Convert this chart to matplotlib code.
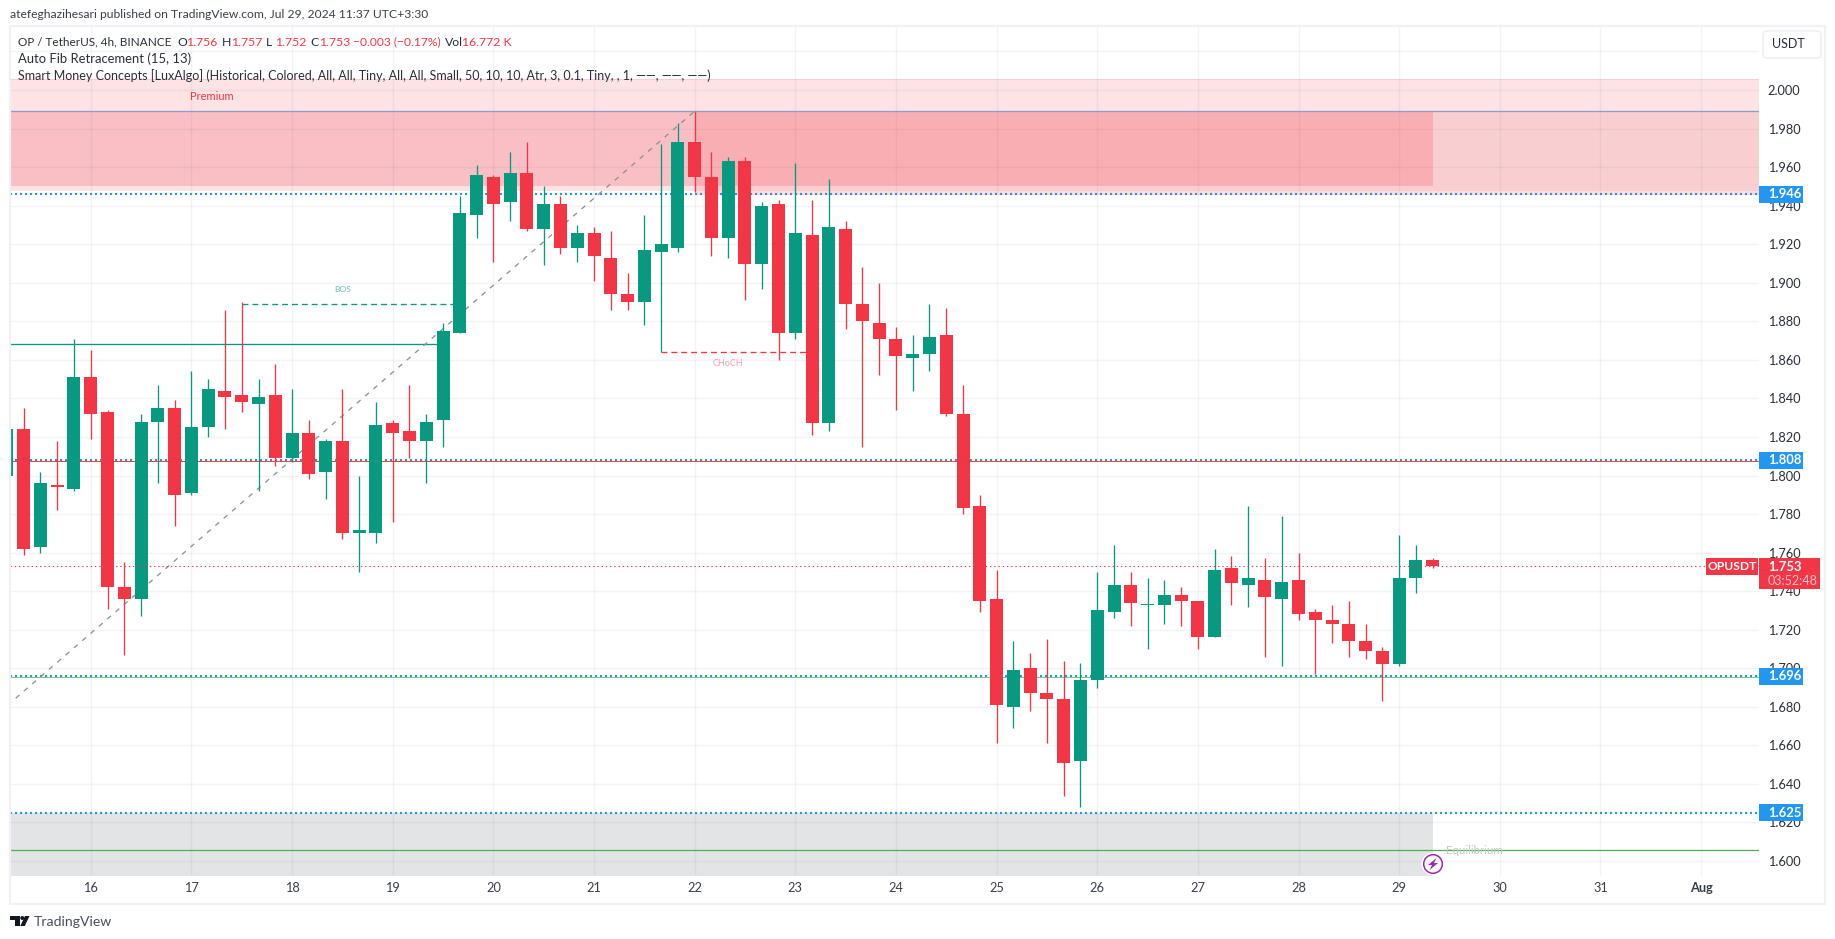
import numpy as np
import matplotlib
matplotlib.use("Agg")
import matplotlib.pyplot as plt
from matplotlib.patches import Rectangle, FancyBboxPatch, Circle, Polygon

# ---------- data ----------
opens = [1.800,1.824,1.763,1.795,1.793,1.851,1.833,1.742,1.736,1.828,1.835,1.791,1.825,1.844,1.842,1.837,1.842,1.809,1.822,1.802,
         1.818,1.770,1.770,1.827,1.823,1.818,1.829,1.874,1.935,1.955,1.942,1.957,1.928,1.941,1.918,1.926,1.913,1.894,1.890,1.916,
         1.918,1.973,1.955,1.923,1.963,1.910,1.941,1.874,1.925,1.827,1.928,1.889,1.879,1.871,1.861,1.863,1.873,1.832,1.784,1.736,
         1.680,1.700,1.687,1.684,1.652,1.694,1.729,1.743,1.733,1.733,1.738,1.735,1.716,1.752,1.743,1.746,1.736,1.746,1.729,1.725,
         1.723,1.714,1.709,1.702,1.747,1.756]
highs = [1.824,1.835,1.802,1.818,1.871,1.865,1.834,1.755,1.832,1.847,1.839,1.854,1.850,1.886,1.890,1.850,1.858,1.845,1.829,1.819,
         1.845,1.800,1.838,1.829,1.847,1.832,1.879,1.945,1.961,1.956,1.968,1.973,1.950,1.945,1.930,1.929,1.927,1.905,1.935,1.972,
         1.983,1.989,1.968,1.965,1.965,1.942,1.943,1.962,1.943,1.954,1.932,1.908,1.900,1.877,1.873,1.889,1.887,1.847,1.790,1.751,
         1.714,1.708,1.715,1.704,1.703,1.750,1.764,1.750,1.747,1.746,1.742,1.735,1.762,1.758,1.784,1.757,1.779,1.760,1.731,1.733,
         1.735,1.723,1.711,1.769,1.764,1.757]
lows = [1.800,1.759,1.760,1.782,1.792,1.819,1.731,1.707,1.727,1.796,1.774,1.790,1.820,1.824,1.833,1.792,1.805,1.807,1.798,1.788,
        1.767,1.750,1.765,1.776,1.809,1.796,1.815,1.874,1.923,1.911,1.932,1.927,1.909,1.915,1.911,1.901,1.886,1.886,1.878,1.864,
        1.916,1.947,1.914,1.913,1.891,1.897,1.860,1.871,1.821,1.823,1.876,1.815,1.852,1.834,1.844,1.854,1.831,1.780,1.729,1.661,
        1.669,1.678,1.661,1.634,1.628,1.690,1.726,1.722,1.710,1.723,1.722,1.710,1.716,1.733,1.732,1.706,1.701,1.725,1.697,1.713,
        1.706,1.705,1.683,1.701,1.739,1.752]
closes = [1.824,1.762,1.796,1.794,1.851,1.832,1.742,1.736,1.828,1.835,1.790,1.825,1.845,1.841,1.838,1.841,1.809,1.822,1.801,1.818,
          1.770,1.772,1.826,1.822,1.818,1.828,1.875,1.936,1.956,1.941,1.957,1.928,1.941,1.918,1.926,1.914,1.894,1.890,1.917,1.920,
          1.973,1.955,1.923,1.963,1.910,1.940,1.874,1.926,1.827,1.929,1.889,1.880,1.871,1.862,1.863,1.872,1.832,1.783,1.735,1.681,
          1.699,1.687,1.684,1.651,1.694,1.730,1.743,1.734,1.733,1.738,1.735,1.716,1.751,1.744,1.747,1.737,1.745,1.728,1.725,1.723,
          1.714,1.709,1.702,1.747,1.756,1.753]

day_ticks = [5, 11, 17, 23, 29, 35, 41, 47, 53, 59, 65, 71, 77, 83, 89, 95, 101]
day_labels = ["16","17","18","19","20","21","22","23","24","25","26","27","28","29","30","31","Aug"]
price_ticks = [1.60,1.62,1.64,1.66,1.68,1.70,1.72,1.74,1.76,1.78,1.80,1.82,1.84,1.86,1.88,1.90,1.92,1.94,1.96,1.98,2.00,2.02]
price_tick_labels = ["1.600","1.620","1.640","1.660","1.680","1.700","1.720","1.740","1.760","1.780","1.800","1.820","1.840",
                     "1.860","1.880","1.900","1.920","1.940","1.960","1.980","2.000",""]
blue_levels = [1.946, 1.808, 1.696, 1.625]
blue_level_labels = ["1.946", "1.808", "1.696", "1.625"]
last_price = 1.753
fib_x = [-1, 41]
fib_y = [1.673, 1.989]
swing_high = 1.989
swing_level = 1.868
bos_level = 1.889
choch_level = 1.864
red_level = 1.8075
green_level = 1.6955
equilibrium = 1.6055

GREEN = "#089981"
RED = "#f23645"
BLUE = "#2196f3"
FONT = ["Lato", "DejaVu Sans"]
plt.rcParams["font.family"] = FONT

W, H = 1835, 939
fig = plt.figure(figsize=(W / 100, H / 100), dpi=100, facecolor="white")

L, R, T, B = 10, 1759, 27, 875.7
ax = fig.add_axes([L / W, 1 - B / H, (R - L) / W, (B - T) / H])
xmin, xmax = 0.185, 104.45
ax.set_xlim(xmin, xmax)
ax.set_ylim(1.5924, 2.0327)
for s in ax.spines.values():
    s.set_visible(False)
ax.set_axisbelow(True)
ax.set_xticks(day_ticks)
ax.set_xticklabels(day_labels, fontsize=9.2, color="#3a3e4a")
ax.get_xticklabels()[-1].set_fontweight("bold")
ax.set_yticks(price_ticks)
ax.set_yticklabels(price_tick_labels, fontsize=9.2, color="#2a2e39")
ax.yaxis.tick_right()
ax.tick_params(axis="both", length=0)
ax.tick_params(axis="x", pad=4.5)
ax.tick_params(axis="y", pad=6.2)
ax.grid(True, color="#1a2550", alpha=0.05, lw=1.05)

# ---------- zones ----------
def zone(x0, x1, p0, p1, color, z=0.2, alpha=None):
    ax.fill_between([x0, x1], p0, p1, color=color, lw=0, zorder=z, alpha=alpha)

zone(xmin, xmax, 1.9476, 2.0057, "#fde3e4")
zone(xmin, xmax, 1.9476, swing_high, "#f9ced1")
zone(xmin, 41, 1.9476, 1.9503, "#fde3e4", z=0.25)
zone(xmin, 41, 1.9503, swing_high, "#f9bfc5", z=0.25)
zone(41, 85, 1.9503, swing_high, "#f9aeb3", z=0.25)
zone(xmin, 85, 1.5924, 1.625, "#e3e4e6")
ax.plot([xmin, xmax], [2.0057, 2.0057], color="#f9d0d2", lw=0.8, zorder=0.3)

# ---------- levels ----------
dotted = (0, (1.0, 1.4))
for lv in blue_levels:
    ax.plot([xmin, xmax], [lv, lv], color=BLUE, lw=1.5, ls=dotted, zorder=1.6)
zone(41, xmax, 1.9456, 1.9476, RED, z=2.0, alpha=0.16)
ax.plot([xmin, xmax], [red_level, red_level], color="#f44336", lw=0.72, zorder=1.7)
ax.plot([xmin, xmax], [green_level, green_level], color="#81c784", lw=0.72, zorder=1.7)
ax.plot([xmin, xmax], [equilibrium, equilibrium], color="#4caf50", lw=0.9, zorder=1.7)
ax.plot([xmin, xmax], [swing_high, swing_high], color="#8a9dcc", lw=0.95, zorder=1.7)
ax.plot([xmin, 26], [swing_level, swing_level], color=GREEN, lw=0.95, zorder=1.7)
ax.plot([14, 27], [bos_level, bos_level], color=GREEN, lw=0.95, ls=(0, (4.5, 3.0)), zorder=1.7)
ax.plot([39, 48], [choch_level, choch_level], color=RED, lw=0.95, ls=(0, (4.5, 3.0)), zorder=1.7)
ax.plot(fib_x, fib_y, color="#8a8d96", lw=0.9, ls=(0, (4.0, 4.8)), zorder=1.8)

# ---------- candles ----------
o = np.array(opens); h = np.array(highs); l = np.array(lows); c = np.array(closes)
x = np.arange(len(o))
colors = [GREEN if cc >= oo else RED for oo, cc in zip(o, c)]
ax.vlines(x, l, h, colors=colors, lw=0.95, zorder=3)
body_low = np.minimum(o, c)
body_h = np.maximum(np.abs(c - o), 0.0006)
ax.bar(x, body_h, bottom=body_low, width=0.775, color=colors, linewidth=0, zorder=3.1)
ax.plot([xmin, xmax], [last_price, last_price], color=RED, lw=0.8, ls=(0, (1.2, 2.6)), zorder=4)

# ---------- overlay in figure pixels ----------
ov = fig.add_axes([0, 0, 1, 1], facecolor="none", zorder=5)
ov.set_xlim(0, W); ov.set_ylim(H, 0); ov.axis("off")

def price_y(p):
    return H - ax.transData.transform((0, p))[1]

def txt(x_, y_, s, size=13, color="#2a2e39", ha="left", weight="normal", **kw):
    ov.text(x_, y_, s, fontsize=size * 0.72, color=color, ha=ha, va="center", fontweight=weight, **kw)

ov.add_patch(Rectangle((10, 26), 1815, 878, fc="none", ec="#f0f1f6", lw=1.6))

txt(10, 15, "atefeghazihesari published on TradingView.com, Jul 29, 2024 11:37 UTC+3:30", size=12.1, color="#3a3e4a")
txt(18, 42, "OP / TetherUS, 4h, BINANCE", size=11.8)
for xp, label, val in [(177, "O", "1.756"), (222, "H", "1.757"), (266, "L", "1.752"), (310, "C", "1.753")]:
    txt(xp, 42, label, size=12.2)
    txt(xp + 9, 42, val, size=12.2, color=RED)
txt(353, 42, "\u22120.003 (\u22120.17%)", size=12, color=RED)
txt(445, 42, "Vol", size=12.2)
txt(462, 42, "16.772 K", size=12.2, color=RED)
txt(18, 59, "Auto Fib Retracement (15, 13)", size=13)
txt(18, 76, "Smart Money Concepts [LuxAlgo] (Historical, Colored, All, All, Tiny, All, All, Small, 50, 10, 10, Atr, 3, 0.1, Tiny, , 1, \u2014\u2014, \u2014\u2014, \u2014\u2014)", size=12.5)

txt(190, 97, "Premium", size=11, color=RED)
txt(343, 290, "BOS", size=8.5, color="#66c2b0", ha="center")
txt(728, 364, "CHoCH", size=9, color="#f9a0a8", ha="center")
txt(1446, 850.5, "Equilibrium", size=11.5, color="#c5c7cc")

# price scale tags
for lv, lab in zip(blue_levels, blue_level_labels):
    py = price_y(lv)
    ov.add_patch(Rectangle((1759, py - 8.5), 44, 17, fc=BLUE, ec="none"))
    txt(1768, py + 0.3, lab, size=13, color="white", weight="bold")

py = price_y(last_price)
ov.add_patch(Rectangle((1759, py - 8), 61, 31, fc=RED, ec="none"))
ov.add_patch(Rectangle((1706, py - 8), 52, 17, fc=RED, ec="none"))
txt(1732, py + 0.3, "OPUSDT", size=12, color="white", ha="center", weight="bold")
txt(1768, py + 0.8, "1.753", size=13, color="white", weight="bold")
txt(1768, py + 14.8, "03:52:48", size=12.5, color="#fcc4c9")

# currency button
ov.add_patch(FancyBboxPatch((1765, 33), 54, 23, boxstyle="round,pad=2,rounding_size=4",
                            fc="white", ec="#f0f1f6", lw=1.4))
txt(1772, 44.5, "USDT", size=12.5)

# bolt icon
ov.add_patch(Circle((1433, 864), 11.5, fc="white", ec="none"))
ov.add_patch(Circle((1433, 864), 9.3, fc="white", ec="#9c27b0", lw=1.1))
ov.add_patch(Polygon([(1436.5, 858), (1428, 865), (1432, 865), (1429.5, 870), (1438, 863), (1434, 863)],
                     closed=True, fc="#9c27b0", ec="none"))

# TradingView logo
ov.add_patch(Polygon([(10, 916), (19.5, 916), (19.5, 926), (15, 926), (15, 920), (10, 920)], closed=True, fc="#131722", ec="none"))
ov.add_patch(Circle((22.3, 918), 2.0, fc="#131722", ec="none"))
ov.add_patch(Polygon([(29.5, 916), (24.8, 926), (20.3, 926), (25, 916)], closed=True, fc="#131722", ec="none"))
txt(34, 921.5, "TradingView", size=14, color="#4a4e5a")

fig.savefig("out.png", dpi=100, facecolor="white")
